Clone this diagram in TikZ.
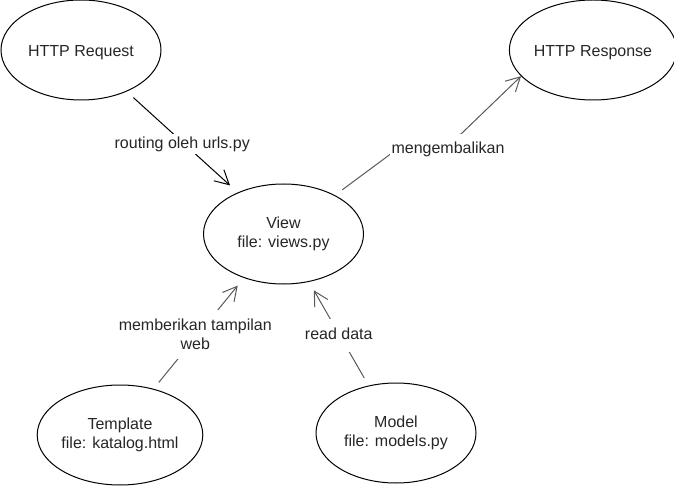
\documentclass[tikz,border=0pt]{standalone}
\usepackage{fontspec}
\setmainfont{Liberation Sans}
\usetikzlibrary{arrows.meta,shapes.geometric}
\tikzset{
  bubble/.style={draw, ellipse, minimum width=160pt, minimum height=100pt, inner sep=0pt, align=center, line width=1pt, text=black!85, execute at begin node={\rule{0pt}{15.5pt}}},
  conn/.style={draw=black!65, line width=1pt, -{Straight Barb[length=14pt,width=15pt,line width=1pt]}},
  lbl/.style={fill=white, inner xsep=2pt, inner ysep=2pt, align=center, text=black!85},
  oneline/.style={text height=12pt, text depth=4pt}
}
\begin{document}
\begin{tikzpicture}[x=1pt, y=-1pt, font=\fontsize{16}{19.2}\selectfont]
\useasboundingbox (0,0) rectangle (674,486);
% the five parts
\node[bubble] (req) at (81,50) {HTTP Request};
\node[bubble] (resp) at (593,50) {HTTP Response};
\node[bubble] (view) at (283.5,234) {View\\file: views.py};
\node[bubble] (tmpl) at (120,435) {Template\\file: katalog.html};
\node[bubble] (model) at (396,433) {Model\\file: models.py};
% flows
\draw[conn, draw=black, shorten <=9pt, shorten >=10.5pt] (req) -- node[lbl, oneline, yshift=-2.5pt] {routing oleh urls.py} (view);
\draw[conn, shorten <=9pt] (view.37) -- (396,150) -- node[lbl, oneline, inner ysep=7pt, xshift=19.5pt, yshift=-7.5pt] {mengembalikan} (461,134) -- (resp.200);
\draw[conn, shorten <=8.2pt, shorten >=9.8pt] (tmpl.54) -- node[lbl, inner ysep=9pt, xshift=-3.5pt, yshift=-1pt] {memberikan tampilan\\web} (view.228);
\draw[conn, shorten <=8.7pt, shorten >=9.6pt] (model.120) -- node[lbl, oneline, inner ysep=8.5pt, yshift=-2pt] {read data} (view.298);
\end{tikzpicture}
\end{document}
